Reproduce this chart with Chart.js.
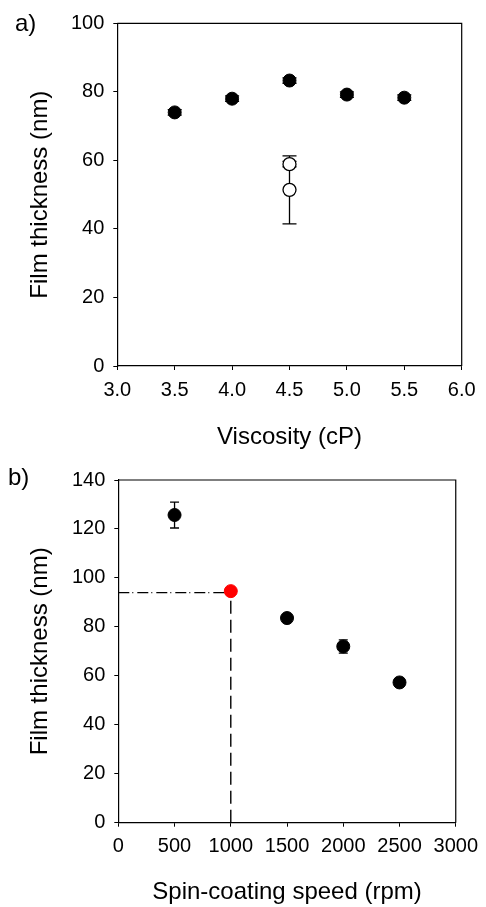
<!DOCTYPE html>
<html>
<head>
<meta charset="utf-8">
<script src="https://cdn.jsdelivr.net/npm/chart.js@4/dist/chart.umd.min.js"></script>
<style>
  html, body { margin: 0; padding: 0; background: #fff; }
  #wrap { position: relative; width: 486px; height: 907px; overflow: hidden; }
  canvas { position: absolute; left: 0; }
  .lbl { position: absolute; font-family: 'Liberation Sans', Arial, sans-serif; font-size: 24px; line-height: 28px; color: #000; }
</style>
</head>
<body>
<div id="wrap">
  <canvas id="chartA" width="486" height="455" style="top:0px"></canvas>
  <canvas id="chartB" width="486" height="452" style="top:455px"></canvas>
  <div class="lbl" style="left:15px; top:9px;">a)</div>
  <div class="lbl" style="left:8px; top:463px;">b)</div>
</div>
<script>
// ---------- Data: panel a) ----------
const viscosity = [3.5, 4.0, 4.5, 5.0, 5.5];
const thicknessA = [74.0, 78.0, 83.3, 79.2, 78.3];
const errorA = [0.8, 0.8, 0.8, 0.8, 0.8];
const viscosityOpen = [4.5, 4.5];
const thicknessOpen = [58.9, 51.4];
const errorOpen = [0.8, 9.9];
const xTicksA = [3.0, 3.5, 4.0, 4.5, 5.0, 5.5, 6.0];
const yTicksA = [0, 20, 40, 60, 80, 100];

// ---------- Data: panel b) ----------
const speed = [500, 1000, 1500, 2000, 2500];
const thicknessB = [125.7, 94.6, 83.6, 72.0, 57.3];
const errorB = [5.3, 0.5, 0.5, 2.7, 0.6];
const refSpeed = 1000;
const refThickness = 94;
const xTicksB = [0, 500, 1000, 1500, 2000, 2500, 3000];
const yTicksB = [0, 20, 40, 60, 80, 100, 120, 140];

Chart.defaults.font.family = "'Liberation Sans', Arial, sans-serif";
Chart.defaults.color = '#000';

const toPts = (xs, ys) => xs.map((x, i) => ({ x: x, y: ys[i] }));

// Error bars drawn through the chart's scales
const errorBarPlugin = {
  id: 'errorBars',
  beforeDatasetsDraw(chart) {
    const ctx = chart.ctx;
    const xs = chart.scales.x, ys = chart.scales.y;
    const capHalf = chart.options.plugins.errorBars.capHalf;
    ctx.save();
    ctx.strokeStyle = '#000';
    ctx.lineWidth = 1.3;
    chart.data.datasets.forEach(ds => {
      if (!ds.errors) return;
      ds.data.forEach((p, i) => {
        const e = ds.errors[i];
        const px = xs.getPixelForValue(p.x);
        const yT = ys.getPixelForValue(p.y + e);
        const yB = ys.getPixelForValue(p.y - e);
        ctx.beginPath();
        ctx.moveTo(px, yT); ctx.lineTo(px, yB);
        ctx.moveTo(px - capHalf, yT); ctx.lineTo(px + capHalf, yT);
        ctx.moveTo(px - capHalf, yB); ctx.lineTo(px + capHalf, yB);
        ctx.stroke();
      });
    });
    ctx.restore();
  }
};

// Top and right frame lines
const framePlugin = {
  id: 'frame',
  afterDraw(chart) {
    const { ctx, chartArea: a } = chart;
    ctx.save();
    ctx.strokeStyle = '#000';
    ctx.lineWidth = 1.2;
    ctx.beginPath();
    ctx.moveTo(a.left, a.top); ctx.lineTo(a.right, a.top); ctx.lineTo(a.right, a.bottom);
    ctx.stroke();
    ctx.restore();
  }
};

function axisOpts(cfg) {
  return {
    x: {
      type: 'linear', min: cfg.xTicks[0], max: cfg.xTicks[cfg.xTicks.length - 1],
      afterBuildTicks: s => { s.ticks = cfg.xTicks.map(v => ({ value: v })); },
      afterFit: s => { s.height = cfg.xHeight; },
      border: { display: true, color: '#000', width: 1.2 },
      grid: { drawOnChartArea: false, drawTicks: true, tickLength: 4, color: '#000', lineWidth: 1 },
      ticks: { font: { size: 20 }, color: '#000', padding: 8, maxRotation: 0, autoSkip: false,
               callback: cfg.xFmt },
      title: { display: true, text: cfg.xTitle, font: { size: 24 }, color: '#000',
               padding: { top: 0, bottom: cfg.xTitlePad } }
    },
    y: {
      type: 'linear', min: cfg.yTicks[0], max: cfg.yTicks[cfg.yTicks.length - 1],
      afterBuildTicks: s => { s.ticks = cfg.yTicks.map(v => ({ value: v })); },
      afterFit: s => { s.width = cfg.yWidth; },
      border: { display: true, color: '#000', width: 1.2 },
      grid: { drawOnChartArea: false, drawTicks: true, tickLength: 4, color: '#000', lineWidth: 1 },
      ticks: { font: { size: 20 }, color: '#000', padding: 9, autoSkip: false },
      title: { display: true, text: 'Film thickness (nm)', font: { size: 24 }, color: '#000',
               padding: { top: 26, bottom: 0 } }
    }
  };
}

new Chart(document.getElementById('chartA'), {
  type: 'scatter',
  data: {
    datasets: [
      {
        data: toPts(viscosity, thicknessA), errors: errorA,
        pointRadius: 6.5, pointBackgroundColor: '#000', pointBorderColor: '#000', pointBorderWidth: 1
      },
      {
        data: toPts(viscosityOpen, thicknessOpen), errors: errorOpen,
        pointRadius: 6.5, pointBackgroundColor: '#fff', pointBorderColor: '#000', pointBorderWidth: 1.3
      }
    ]
  },
  options: {
    responsive: false, animation: false,
    layout: { padding: { top: 23.3, right: 24.3, left: 0, bottom: 0 } },
    plugins: { legend: { display: false }, tooltip: { enabled: false }, errorBars: { capHalf: 7 } },
    scales: axisOpts({
      xTicks: xTicksA, yTicks: yTicksA, xHeight: 89, yWidth: 117.3,
      xFmt: v => Number(v).toFixed(1), xTitle: 'Viscosity (cP)', xTitlePad: 3.6
    })
  },
  plugins: [errorBarPlugin, framePlugin]
});

new Chart(document.getElementById('chartB'), {
  type: 'scatter',
  data: {
    datasets: [
      {
        data: toPts(speed, thicknessB), errors: errorB,
        pointRadius: 6.5,
        pointBackgroundColor: ctx => (ctx.raw && ctx.raw.x === refSpeed) ? '#ff0000' : '#000',
        pointBorderColor: ctx => (ctx.raw && ctx.raw.x === refSpeed) ? '#ff0000' : '#000',
        pointBorderWidth: 1, order: 0
      },
      {
        type: 'line',
        data: [{ x: xTicksB[0], y: refThickness }, { x: refSpeed, y: refThickness }],
        showLine: true, borderColor: '#000', borderWidth: 1.4, borderDash: [11, 3, 1, 4],
        pointRadius: 0, fill: false, order: 1
      },
      {
        type: 'line',
        data: [{ x: refSpeed, y: yTicksB[0] }, { x: refSpeed, y: refThickness }],
        showLine: true, borderColor: '#000', borderWidth: 1.4, borderDash: [13, 6],
        pointRadius: 0, fill: false, order: 1
      }
    ]
  },
  options: {
    responsive: false, animation: false,
    layout: { padding: { top: 25, right: 23.7, left: 0, bottom: 0 } },
    plugins: { legend: { display: false }, tooltip: { enabled: false }, errorBars: { capHalf: 4.5 } },
    scales: axisOpts({
      xTicks: xTicksB, yTicks: yTicksB, xHeight: 84.3, yWidth: 118.3,
      xFmt: v => String(v), xTitle: 'Spin-coating speed (rpm)', xTitlePad: 0
    })
  },
  plugins: [errorBarPlugin, framePlugin]
});
</script>
</body>
</html>
